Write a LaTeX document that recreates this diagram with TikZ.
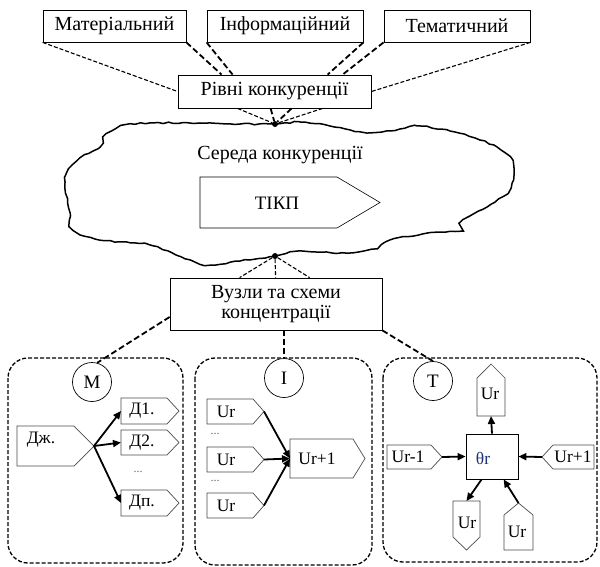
\documentclass[tikz,border=0pt]{standalone}
\usepackage{fontspec}
\setmainfont{Liberation Serif}
\usetikzlibrary{arrows.meta,calc,decorations.pathmorphing}
\definecolor{thcol}{RGB}{30,50,120}
% horizontal pentagon: name, xbase, ytop, xshoulder, xtip, ybottom
\newcommand\pentH[7][pent]{%
 \path ($(#3,#4)!.5!(#3,#7)$) coordinate (#2-b);
 \draw[#1] (#3,#4) -- (#5,#4) -- ($(#6,#4)!.5!(#6,#7)$) coordinate (#2) -- (#5,#7) -- (#3,#7) -- cycle;}
% vertical pentagon: name, ybase, xleft, yshoulder, ytip, xright
\newcommand\pentV[6]{%
 \path ($(#3,#2)!.5!(#6,#2)$) coordinate (#1-b);
 \draw[pent] (#3,#2) -- (#3,#4) -- ($(#3,#5)!.5!(#6,#5)$) coordinate (#1) -- (#6,#4) -- (#6,#2) -- cycle;}
\begin{document}
\begin{tikzpicture}[x=1pt,y=-1pt,
 box/.style={draw, line width=0.8pt, inner sep=0pt},
 big/.style={font=\fontsize{20}{20}\selectfont},
 small/.style={font=\fontsize{17.5}{17.5}\selectfont, inner sep=0pt},
 dotsl/.style={font=\fontsize{12}{12}\selectfont, text=black!60, inner sep=0pt},
 conn/.style={line width=1.1pt, dash pattern=on 4pt off 2pt},
 connb/.style={line width=1.8pt, dash pattern=on 6pt off 3pt},
 panel/.style={line width=1.3pt, dash pattern=on 4pt off 2pt, rounded corners=20pt},
 pent/.style={draw=black!70, line width=0.7pt},
 tikpline/.style={draw=black, line width=0.6pt},
 arr/.style={line width=1.8pt, -{Triangle[length=8pt,width=7pt]}},
 lab/.style={circle, draw, line width=0.7pt, minimum size=39pt, inner sep=0pt, font=\fontsize{19}{19}\selectfont},
 dot/.style={circle, fill, inner sep=0pt, minimum size=6pt}]

\useasboundingbox (0,0) rectangle (600,566);
\fill[white] (0,0) rectangle (600,566);

% top level boxes
\node[box, big, minimum width=143pt, minimum height=32pt] (mat) at (114.5,26) {Матеріальний};
\node[box, big, minimum width=156pt, minimum height=32pt] (inf) at (285,26) {Інформаційний};
\node[box, big, minimum width=146pt, minimum height=32pt] (tem) at (457,26) {Тематичний};
\node[box, big, minimum width=193pt, minimum height=33pt] (riv) at (274.5,91.5) {Рівні конкуренції};

% cloud
\pgfmathsetseed{7}
\draw[line width=1.5pt, decorate, decoration={random steps, segment length=5pt, amplitude=0.7pt}]
 plot[smooth cycle, tension=0.5] coordinates {
 (275,124) (300,122) (330,126) (367,133) (390,131) (417,126) (450,131) (475,138)
 (497,147) (510,157) (514,170) (512,183) (507,193) (487,207) (463,220) (460,230)
 (423,234) (390,240) (377,248) (347,253) (300,251) (275,256) (240,261) (210,265)
 (195,262) (150,245) (100,240) (73,230) (70,213) (65,187) (67,173) (80,158)
 (100,147) (103,137) (112,131) (125,125) (153,123) (200,123) (240,124)};

\node[dot] (d1) at (275,124) {};
\node[dot] (d2) at (275,256) {};

\draw[conn] (mat.south west) -- (riv.west);
\draw[connb] (mat.south east) -- ($(riv.north west)+(44,0)$);
\draw[connb] (inf.south west) -- ($(riv.north west)+(55,0)$);
\draw[connb] (inf.south east) -- ($(riv.north west)+(150,0)$);
\draw[connb] (tem.south west) -- ($(riv.north west)+(165,0)$);
\draw[conn] (tem.south east) -- (riv.east);

\draw[conn] ($(riv.south west)+(60,0)$) -- (d1);
\draw[connb] ($(riv.south west)+(93,0)$) -- (d1);
\draw[connb] ($(riv.south west)+(114,0)$) -- (d1);
\draw[conn] ($(riv.south west)+(145,0)$) -- (d1);

\node[big] (sered) at (280,155) {Середа конкуренції};
\pentH[tikpline]{tk}{200}{177}{337}{380}{228}
\node[font=\fontsize{19}{19}\selectfont] (tikp) at (277,203) {ТІКП};

\node[box, big, minimum width=212pt, minimum height=52pt, align=center] (vuz) at (276,304) {Вузли та схеми\\концентрації};

\draw[conn] (d2) -- ($(vuz.north west)+(70,0)$);
\draw[conn] (d2) -- ($(vuz.north west)+(106,0)$);
\draw[conn] (d2) -- ($(vuz.north west)+(140,0)$);

% panels
\draw[panel] (8,358) rectangle (183,563);
\draw[panel] (195,358) rectangle (372,565);
\draw[panel] (383,358) rectangle (597,562);

\node[lab, fill=white] (mc) at (92,382) {М};
\node[lab, fill=white] (ic) at (284,378) {І};
\node[lab, fill=white] (tc) at (433,381) {Т};

\draw[connb] ($(vuz.west)+(0,13)$) -- (mc.75);
\draw[connb] (vuz.south -| ic.north) -- (ic.north);
\draw[connb] (vuz.south east) -- (tc.north);

% M panel
\pentH{dzh}{17}{426}{74}{94}{466}
\node[small] (tdzh) at (41,440) {Дж.};
\pentH{pd1}{121}{398}{167}{179}{424}
\node[small] (td1) at (142,411) {Д1.};
\pentH{pd2}{121}{430}{167}{179}{455}
\node[small] (td2) at (142,442.5) {Д2.};
\pentH{pdn}{121}{490}{167}{179}{516}
\node[small] (tdn) at (142,503) {Дп.};
\node[dotsl] (mdots) at (138,472) {...};
\draw[arr] (dzh) -- (pd1-b);
\draw[arr] (dzh) -- (pd2-b);
\draw[arr] (dzh) -- (pdn-b);

% I panel
\pentH{u1}{207}{399}{253}{264}{424}
\node[small] (tu1) at (226,411.5) {Ur};
\pentH{u2}{207}{447}{253}{264}{472}
\node[small] (tu2) at (226,459.5) {Ur};
\pentH{u3}{207}{493}{253}{264}{518}
\node[small] (tu3) at (226,505.5) {Ur};
\node[dotsl] (idots1) at (215,434) {...};
\node[dotsl] (idots2) at (215,481) {...};
\pentH{up1}{290}{439}{353}{365}{478}
\node[small] (tup1) at (317,458.5) {Ur+1};
\draw[arr] (u1) -- (up1-b);
\draw[arr] (u2) -- (up1-b);
\draw[arr] (u3) -- (up1-b);

% T panel
\node[box, minimum width=52pt, minimum height=45pt] (th) at (492,456.5) {};
\node[small, text=thcol] (tht) at (483,458) {θr};
\pentV{tu}{416}{477}{378}{364}{505}
\node[small] (ttu) at (490,394) {Ur};
\pentH{tm1}{387}{445}{431}{442}{469}
\node[small] (ttm1) at (408,457) {Ur-1};
\pentH{tp1}{594}{445}{553}{542}{469}
\node[small] (ttp1) at (573,457) {Ur+1};
\pentV{bl}{501}{453}{537}{550}{480}
\node[small] (tbl) at (467,523) {Ur};
\pentV{br}{550}{504}{515}{503}{533}
\node[small] (tbr) at (517,532) {Ur};

\draw[arr] (tm1) -- (th.west);
\draw[arr] (tp1) -- (th.east);
\draw[arr] (th.north) -- (tu-b);
\draw[arr] ($(th.south west)+(16,0)$) -- (bl-b);
\draw[arr] (br) -- ($(th.south west)+(38,0)$);
\end{tikzpicture}
\end{document}
